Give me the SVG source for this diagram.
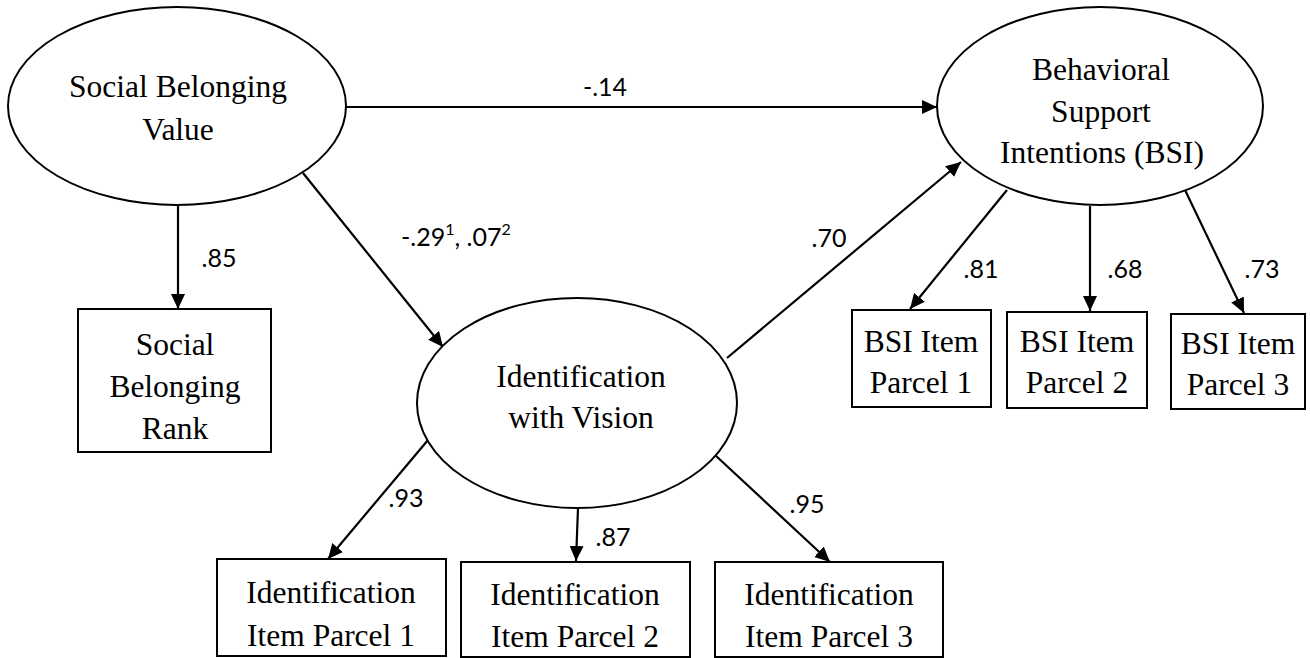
<svg xmlns="http://www.w3.org/2000/svg" width="1310" height="658" viewBox="0 0 1310 658">
<defs>
<marker id="ah" markerUnits="userSpaceOnUse" markerWidth="16" markerHeight="14" refX="15" refY="7" orient="auto">
<path d="M0,0 L15,7 L0,14 z" fill="#000"/>
</marker>
<style>
.n{fill:#fff;stroke:#000;stroke-width:2}
.t{font-family:'Liberation Serif',serif;font-size:31.5px;fill:#000;text-anchor:middle}
.c{stroke:#000;stroke-width:2.2;fill:none;marker-end:url(#ah)}
.l{font-family:Lato,'Open Sans',sans-serif;font-size:25px;fill:#000;text-anchor:middle}
.s{font-family:Lato,'Open Sans',sans-serif;font-size:25px;fill:#000}
</style>
</defs>
<rect width="1310" height="658" fill="#fff"/>
<g id="connectors">
<line class="c" x1="346" y1="107" x2="937" y2="107"/>
<line class="c" x1="178" y1="206" x2="178" y2="309"/>
<line class="c" x1="303" y1="173" x2="443" y2="347"/>
<line class="c" x1="727" y1="358" x2="961" y2="162"/>
<line class="c" x1="1007" y1="190" x2="910" y2="309"/>
<line class="c" x1="1090" y1="206" x2="1090" y2="311"/>
<line class="c" x1="1185" y1="190" x2="1244" y2="313"/>
<line class="c" x1="428" y1="440" x2="328" y2="559"/>
<line class="c" x1="578" y1="508" x2="576" y2="561"/>
<line class="c" x1="715" y1="455" x2="830" y2="562"/>
<text class="l" x="605" y="96">-.14</text>
<text class="l" x="219" y="267">.85</text>
<text class="s" x="401" y="246">-.29<tspan font-size="16" dy="-11">1</tspan><tspan dy="11">, .07</tspan><tspan font-size="16" dy="-11">2</tspan></text>
<text class="l" x="829" y="247">.70</text>
<text class="l" x="981" y="278">.81</text>
<text class="l" x="1125" y="278">.68</text>
<text class="l" x="1262" y="278">.73</text>
<text class="l" x="406" y="507">.93</text>
<text class="l" x="613" y="546">.87</text>
<text class="l" x="807" y="513">.95</text>
</g>
<g id="sbv">
<ellipse class="n" cx="177" cy="106" rx="169" ry="99"/>
<text class="t" x="178" y="97">Social Belonging</text>
<text class="t" x="178" y="140">Value</text>
</g>
<g id="bsi">
<ellipse class="n" cx="1100" cy="106" rx="163" ry="99"/>
<text class="t" x="1101" y="80">Behavioral</text>
<text class="t" x="1101" y="122">Support</text>
<text class="t" x="1102" y="163">Intentions (BSI)</text>
</g>
<g id="idv">
<ellipse class="n" cx="577" cy="403" rx="160" ry="105"/>
<text class="t" x="581" y="387">Identification</text>
<text class="t" x="581" y="428">with Vision</text>
</g>
<g id="sbr">
<rect class="n" x="78" y="309" width="193" height="143"/>
<text class="t" x="175" y="355">Social</text>
<text class="t" x="175" y="397">Belonging</text>
<text class="t" x="175" y="439">Rank</text>
</g>
<g id="bsi1">
<rect class="n" x="852" y="310" width="139" height="97"/>
<text class="t" x="921" y="352">BSI Item</text>
<text class="t" x="921" y="393">Parcel 1</text>
</g>
<g id="bsi2">
<rect class="n" x="1007" y="312" width="140" height="96"/>
<text class="t" x="1077" y="352">BSI Item</text>
<text class="t" x="1077" y="393">Parcel 2</text>
</g>
<g id="bsi3">
<rect class="n" x="1171" y="314" width="134" height="95"/>
<text class="t" x="1238" y="354">BSI Item</text>
<text class="t" x="1238" y="395">Parcel 3</text>
</g>
<g id="id1">
<rect class="n" x="217" y="559" width="229" height="97"/>
<text class="t" x="331" y="603">Identification</text>
<text class="t" x="331" y="646">Item Parcel 1</text>
</g>
<g id="id2">
<rect class="n" x="461" y="562" width="229" height="95"/>
<text class="t" x="575" y="605">Identification</text>
<text class="t" x="575" y="647">Item Parcel 2</text>
</g>
<g id="id3">
<rect class="n" x="715" y="562" width="228" height="95"/>
<text class="t" x="829" y="605">Identification</text>
<text class="t" x="829" y="647">Item Parcel 3</text>
</g>
</svg>
